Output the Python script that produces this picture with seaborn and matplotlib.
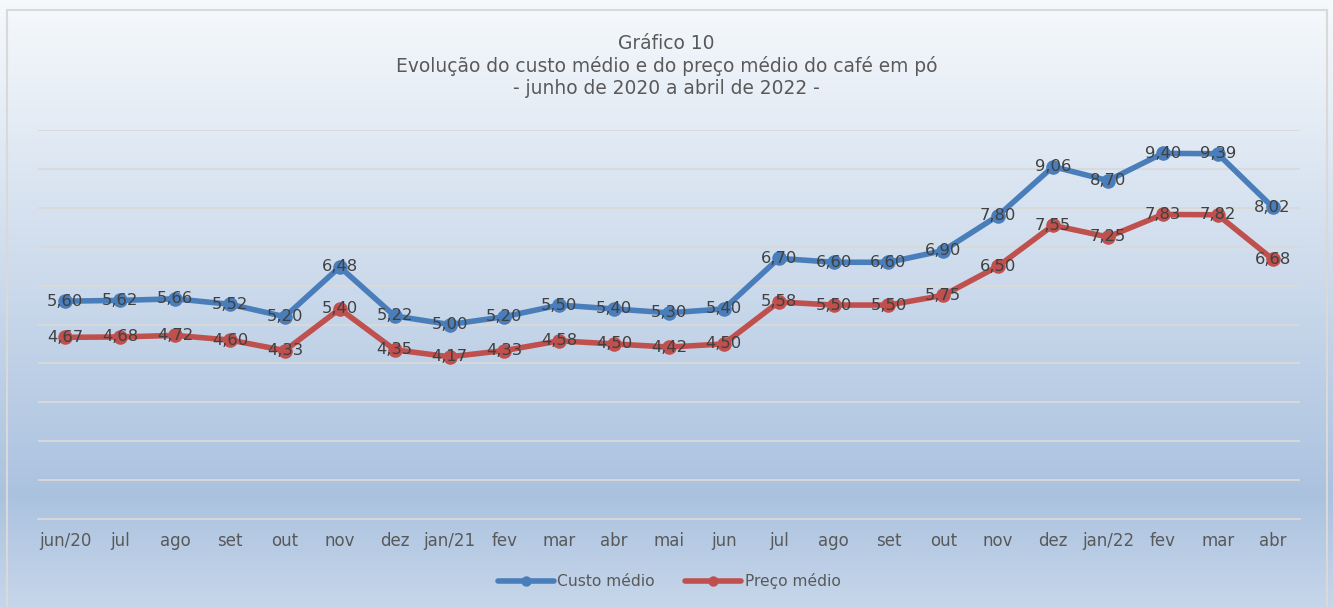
import matplotlib
matplotlib.use("Agg")
import matplotlib.pyplot as plt
from matplotlib.colors import LinearSegmentedColormap
from matplotlib.patches import Rectangle
import seaborn as sns
import numpy as np
import pandas as pd

meses = ['jun/20', 'jul', 'ago', 'set', 'out', 'nov', 'dez', 'jan/21', 'fev', 'mar', 'abr', 'mai',
         'jun', 'jul', 'ago', 'set', 'out', 'nov', 'dez', 'jan/22', 'fev', 'mar', 'abr']
custo = [5.60, 5.62, 5.66, 5.52, 5.20, 6.48, 5.22, 5.00, 5.20, 5.50, 5.40, 5.30,
         5.40, 6.70, 6.60, 6.60, 6.90, 7.80, 9.06, 8.70, 9.40, 9.39, 8.02]
preco = [4.67, 4.68, 4.72, 4.60, 4.33, 5.40, 4.35, 4.17, 4.33, 4.58, 4.50, 4.42,
         4.50, 5.58, 5.50, 5.50, 5.75, 6.50, 7.55, 7.25, 7.83, 7.82, 6.68]

df = pd.DataFrame({
    'pos': list(range(len(meses))) * 2,
    'valor': custo + preco,
    'serie': ['Custo médio'] * len(custo) + ['Preço médio'] * len(preco),
})

sns.set_style("white")
plt.rcParams['font.family'] = ['DejaVu Sans']

W, H = 1333, 607
fig = plt.figure(figsize=(W / 100, H / 100), dpi=100)

# gradient background
bg = fig.add_axes([0, 0, 1, 1], zorder=-10)
cmap = LinearSegmentedColormap.from_list('bg', [(0, '#f6f9fc'), (0.82, '#abc2df'), (1.0, '#c6d6ea')])
bg.imshow(np.linspace(0, 1, 300).reshape(-1, 1), aspect='auto', cmap=cmap,
          extent=[0, 1, 0, 1], origin='upper')
bg.add_patch(Rectangle((7 / W, -0.01), (1327 - 7) / W, 1 - 10 / H + 0.01, fill=False,
                       edgecolor='#d9d9d9', lw=1.5, transform=bg.transAxes))
bg.set_xlim(0, 1)
bg.set_ylim(0, 1)
bg.axis('off')

ax = fig.add_axes([38 / W, 1 - 519 / H, (1300 - 38) / W, (519 - 130) / H])
ax.patch.set_alpha(0)

cores = {'Custo médio': '#4a7ebb', 'Preço médio': '#c0504d'}
sns.lineplot(data=df, x='pos', y='valor', hue='serie', palette=cores, marker='o',
             markersize=10.5, markeredgewidth=0, linewidth=4, ax=ax, legend=True, zorder=3)

for serie, vals in [('Custo médio', custo), ('Preço médio', preco)]:
    for i, v in enumerate(vals):
        ax.text(i, v, f'{v:.2f}'.replace('.', ','), ha='center', va='center',
                fontsize=11.8, color='#404040', zorder=4)

ax.set_xlim(-0.5, len(meses) - 0.5)
ax.set_ylim(0, 10)
ax.set_yticks(range(0, 11))
ax.yaxis.grid(True, color='#d9d9d9', lw=1.3)
ax.set_axisbelow(True)
ax.set_yticklabels([])
ax.tick_params(axis='y', length=0)
ax.set_xticks(range(len(meses)))
ax.set_xticklabels(meses, fontsize=12, color='#595959')
ax.tick_params(axis='x', length=0, pad=9)
for s in ['top', 'right', 'left']:
    ax.spines[s].set_visible(False)
ax.spines['bottom'].set_color('#d9d9d9')
ax.spines['bottom'].set_linewidth(1.3)
ax.set_xlabel('')
ax.set_ylabel('')

leg = ax.legend(loc='center', bbox_to_anchor=(0.5, -0.16), ncol=2, frameon=False,
                fontsize=11.2, handlelength=3.6, columnspacing=2.0, handletextpad=0.2)
for t in leg.get_texts():
    t.set_color('#595959')
for h in leg.legend_handles:
    h.set_markersize(7.5)

fig.text(0.5, 1 - 66 / H, 'Gráfico 10\nEvolução do custo médio e do preço médio do café em pó\n- junho de 2020 a abril de 2022 -',
         ha='center', va='center', fontsize=13.4, color='#595959', linespacing=1.17)

fig.savefig('out.png', dpi=100)
